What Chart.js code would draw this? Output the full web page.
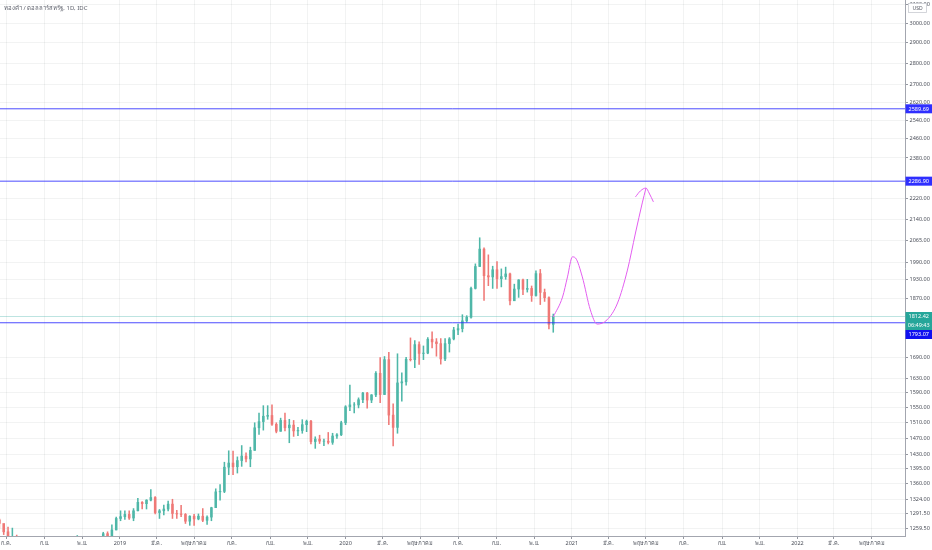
<!DOCTYPE html>
<html>
<head>
<meta charset="utf-8">
<script src="https://cdn.jsdelivr.net/npm/chart.js@4.4.0/dist/chart.umd.min.js"></script>
<style>
  html, body { margin: 0; padding: 0; background: #fff; }
  #wrap { width: 932px; height: 550px; }
</style>
</head>
<body>
<div id="wrap"><canvas id="chart" width="932" height="550"></canvas></div>
<script>
const title = 'ทองคำ / ดอลลาร์สหรัฐ, 1D, IDC';

// weekly candles, first week starts Monday 2018-06-18, open = previous close
const firstWeek = '2018-06-18';
const firstOpen = 1278;
const closes = [
  1270, 1252, 1241, 1241, 1231, 1223, 1214, 1212, 1184, 1206, 1201, 1196, 1194, 1199, 1192,
  1203, 1219, 1227, 1233, 1233, 1209, 1222, 1222, 1222, 1248, 1238, 1256, 1281, 1285,
  1290, 1282, 1298, 1317, 1314, 1322, 1328, 1294, 1298, 1302, 1313, 1292, 1291, 1290, 1275, 1286, 1280,
  1286, 1277, 1284, 1305, 1341, 1342, 1399, 1409, 1400, 1415, 1426, 1419, 1440, 1497, 1513, 1527, 1529,
  1506, 1488, 1516, 1497, 1504, 1489, 1490, 1505, 1514, 1462, 1468, 1463, 1463, 1460, 1476, 1479, 1510, 1552,
  1557, 1557, 1571, 1589, 1570, 1584, 1644, 1585, 1683, 1530, 1498, 1617, 1620, 1684, 1683, 1727, 1701,
  1702, 1743, 1735, 1730, 1685, 1730, 1744, 1771, 1775, 1799, 1810, 1902, 1975, 2035, 1944, 1940, 1964, 1934,
  1941, 1950, 1862, 1900, 1930, 1899, 1902, 1879, 1951, 1889, 1872, 1788, 1812
];
const highs = [
  1280, 1268, 1262, 1260, 1245, 1235, 1236, 1220, 1219, 1214, 1214, 1204, 1213, 1211, 1204,
  1211, 1233, 1236, 1244, 1238, 1237, 1227, 1231, 1230, 1251, 1252, 1267, 1284, 1298,
  1298, 1298, 1303, 1326, 1319, 1323, 1346, 1330, 1301, 1311, 1320, 1324, 1299, 1310, 1292, 1287, 1290,
  1291, 1303, 1287, 1306, 1348, 1358, 1411, 1439, 1438, 1424, 1452, 1434, 1448, 1510, 1535, 1555, 1555,
  1557, 1510, 1522, 1535, 1519, 1516, 1498, 1518, 1517, 1516, 1474, 1478, 1468, 1485, 1483, 1482, 1514, 1555,
  1611, 1563, 1576, 1591, 1591, 1585, 1649, 1689, 1692, 1704, 1560, 1700, 1645, 1690, 1747, 1739, 1735,
  1723, 1748, 1765, 1745, 1745, 1745, 1748, 1779, 1789, 1818, 1815, 1906, 1984, 2075, 2039, 2015, 1976, 1992,
  1967, 1973, 1953, 1916, 1931, 1933, 1932, 1910, 1960, 1965, 1900, 1875, 1820
];
const lows = [
  1260, 1246, 1238, 1236, 1211, 1219, 1205, 1207, 1160, 1183, 1195, 1191, 1191, 1193, 1181,
  1182, 1182, 1211, 1221, 1211, 1203, 1196, 1217, 1211, 1221, 1235, 1236, 1256, 1276,
  1279, 1279, 1276, 1298, 1302, 1302, 1320, 1291, 1281, 1289, 1298, 1281, 1281, 1285, 1270, 1266, 1266,
  1278, 1274, 1268, 1276, 1305, 1322, 1339, 1381, 1381, 1385, 1401, 1412, 1400, 1440, 1480, 1491, 1519,
  1503, 1484, 1488, 1489, 1459, 1475, 1477, 1483, 1487, 1456, 1445, 1457, 1452, 1456, 1455, 1470, 1477, 1505,
  1542, 1536, 1549, 1563, 1548, 1563, 1579, 1563, 1585, 1505, 1451, 1483, 1567, 1611, 1679, 1660, 1669,
  1683, 1700, 1717, 1693, 1670, 1680, 1705, 1741, 1757, 1765, 1795, 1807, 1900, 1975, 1863, 1911, 1902, 1902,
  1907, 1932, 1849, 1863, 1873, 1882, 1890, 1860, 1877, 1850, 1860, 1774, 1764
];

const tickDates = [
  '2018-07-01', '2018-09-01', '2018-11-01', '2019-01-01', '2019-03-01', '2019-05-01',
  '2019-07-01', '2019-09-01', '2019-11-01', '2020-01-01', '2020-03-01', '2020-05-01',
  '2020-07-01', '2020-09-01', '2020-11-01', '2021-01-01', '2021-03-01', '2021-05-01',
  '2021-07-01', '2021-09-01', '2021-11-01', '2022-01-01', '2022-03-01', '2022-05-01'
];
const tickLabels = [
  'ก.ค.', 'ก.ย.', 'พ.ย.', '2019', 'มี.ค.', 'พฤษภาคม',
  'ก.ค.', 'ก.ย.', 'พ.ย.', '2020', 'มี.ค.', 'พฤษภาคม',
  'ก.ค.', 'ก.ย.', 'พ.ย.', '2021', 'มี.ค.', 'พฤษภาคม',
  'ก.ค.', 'ก.ย.', 'พ.ย.', '2022', 'มี.ค.', 'พฤษภาคม'
];
const priceTicks = [
  3100, 3000, 2900, 2800, 2700, 2620, 2540, 2460, 2380, 2220, 2140, 2065, 1990, 1930, 1870,
  1690, 1630, 1590, 1550, 1510, 1470, 1430, 1395, 1360, 1324, 1291.5, 1259.5
];

const levels = [2589.69, 2286.90, 1793.07];
const lastPrice = 1812.42;
const countdown = '06:49:43';

// hand drawn forecast path (days from 2019-01-01, price)
const pathDays = [701, 716, 724, 732, 737, 748, 761, 772, 788, 805, 821, 834, 845, 851];
const pathPrices = [1811, 1874, 1940, 2008, 2004, 1940, 1833, 1789, 1802, 1855, 1963, 2092, 2203, 2260];
const arrowDays = [834, 842, 851, 856, 863];
const arrowPrices = [2226, 2249, 2260, 2241, 2207];

const viewStart = '2018-06-21';
const viewEnd = '2022-06-24';
const priceMin = 1243;
const priceMax = 3122;

const UP = '#4fb7a8';
const DOWN = '#ef7977';
const LEVEL = 'rgba(45,45,255,0.85)';
const TEAL = '#26a69a';
const FONT = '"Noto Sans", "DejaVu Sans", sans-serif';

const dayOf = (s) => {
  const [y, m, d] = s.split('-').map(Number);
  return (Date.UTC(y, m - 1, d) - Date.UTC(2019, 0, 1)) / 86400000;
};

const start = dayOf(firstWeek);
const opens = closes.map((c, i) => (i === 0 ? firstOpen : closes[i - 1]));
const candleX = closes.map((c, i) => start + i * 7 + 2);
const colors = closes.map((c, i) => (c >= opens[i] ? UP : DOWN));
const tickDays = tickDates.map(dayOf);
const xMin = dayOf(viewStart);
const xMax = dayOf(viewEnd);

const overlay = {
  id: 'overlay',
  afterDraw(chart) {
    const { ctx, chartArea } = chart;
    const y = chart.scales.y;
    ctx.save();

    ctx.font = '6px ' + FONT;
    ctx.fillStyle = '#5d606b';
    ctx.textAlign = 'left';
    ctx.textBaseline = 'middle';
    ctx.fillText(title, 4, 8.5);

    // currency badge
    ctx.fillStyle = '#fff';
    ctx.fillRect(908, 3, 19, 10);
    ctx.strokeStyle = '#c9cbd1';
    ctx.lineWidth = 0.8;
    ctx.strokeRect(908.5, 3.5, 18, 9);
    ctx.fillStyle = '#50535e';
    ctx.font = '5px ' + FONT;
    ctx.textAlign = 'center';
    ctx.fillText('USD', 917.5, 8.3);

    const tags = [
      { v: levels[0], color: '#2f2fff' },
      { v: levels[1], color: '#2f2fff' },
      { v: lastPrice, color: TEAL },
      { text: countdown, color: TEAL, follow: true },
      { v: levels[2], color: '#1010f0' }
    ];
    const h = 9;
    const left = chartArea.right + 0.5;
    let bottom = -Infinity;
    ctx.font = '5.5px ' + FONT;
    tags.forEach((t) => {
      const top = t.follow ? bottom : Math.max(y.getPixelForValue(t.v) - h / 2, bottom);
      ctx.fillStyle = t.color;
      ctx.fillRect(left, top, chart.width - left, h);
      ctx.fillStyle = '#fff';
      ctx.fillText(t.text || t.v.toFixed(2), (left + chart.width) / 2, top + h / 2 + 0.3);
      bottom = top + h;
    });
    ctx.restore();
  }
};

const flat = (v) => [{ x: xMin, y: v }, { x: xMax, y: v }];

new Chart(document.getElementById('chart'), {
  type: 'bar',
  data: {
    datasets: [
      {
        type: 'line',
        data: pathDays.map((d, i) => ({ x: d, y: pathPrices[i] })),
        borderColor: '#e35ef0',
        borderWidth: 1,
        pointRadius: 0,
        cubicInterpolationMode: 'monotone',
        order: 0
      },
      {
        type: 'line',
        data: arrowDays.map((d, i) => ({ x: d, y: arrowPrices[i] })),
        borderColor: '#e35ef0',
        borderWidth: 1,
        pointRadius: 0,
        cubicInterpolationMode: 'monotone',
        order: 0
      },
      ...levels.map((v) => ({
        type: 'line',
        data: flat(v),
        borderColor: LEVEL,
        borderWidth: 1,
        pointRadius: 0,
        order: 0
      })),
      {
        type: 'line',
        data: flat(lastPrice),
        borderColor: 'rgba(38,166,154,0.3)',
        borderWidth: 1,
        pointRadius: 0,
        order: 2
      },
      {
        data: candleX.map((x, i) => ({ x, y: [lows[i], highs[i]] })),
        backgroundColor: colors,
        barThickness: 0.9,
        grouped: false,
        order: 1
      },
      {
        data: candleX.map((x, i) => ({ x, y: [opens[i], closes[i]] })),
        backgroundColor: colors,
        barThickness: 1.9,
        grouped: false,
        order: 1
      }
    ]
  },
  options: {
    responsive: false,
    animation: false,
    layout: { padding: 0 },
    plugins: { legend: { display: false }, tooltip: { enabled: false } },
    scales: {
      x: {
        type: 'linear',
        min: xMin,
        max: xMax,
        offset: false,
        grid: { color: 'rgba(42,46,57,0.06)', offset: false, tickLength: 3, tickColor: '#9598a1' },
        border: { color: '#a3a6af' },
        afterBuildTicks: (scale) => { scale.ticks = tickDays.map((v) => ({ value: v })); },
        afterFit: (scale) => {
          scale.height = 14;
          scale.paddingLeft = 0;
          scale.paddingRight = 0;
        },
        ticks: {
          autoSkip: false,
          maxRotation: 0,
          padding: 1,
          color: '#4a4e58',
          font: { size: 5.5, family: FONT },
          callback: (v, i) => tickLabels[i]
        }
      },
      y: {
        type: 'logarithmic',
        position: 'right',
        min: priceMin,
        max: priceMax,
        grid: { color: 'rgba(42,46,57,0.06)', tickLength: 3, tickColor: '#9598a1' },
        border: { color: '#a3a6af' },
        afterBuildTicks: (scale) => { scale.ticks = priceTicks.map((v) => ({ value: v })); },
        afterFit: (scale) => {
          scale.width = 27;
          scale.paddingTop = 0;
          scale.paddingBottom = 0;
        },
        ticks: {
          padding: 1.5,
          color: '#4a4e58',
          font: { size: 5.5, family: FONT },
          callback: (v) => Number(v).toFixed(2)
        }
      }
    }
  },
  plugins: [overlay]
});
</script>
</body>
</html>
